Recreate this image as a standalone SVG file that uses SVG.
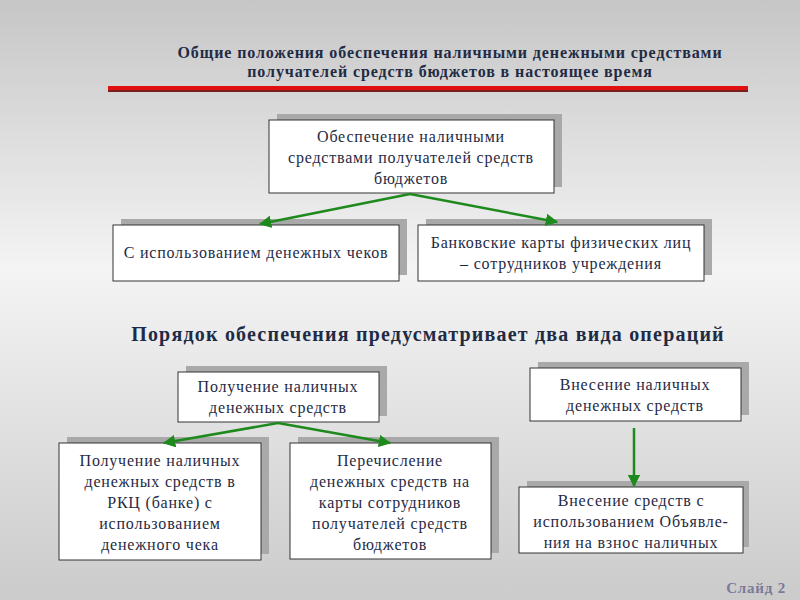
<svg xmlns="http://www.w3.org/2000/svg" width="800" height="600" viewBox="0 0 800 600">
<defs>
<linearGradient id="bg" x1="0" y1="0" x2="0" y2="1">
<stop offset="0" stop-color="#c6c6c6"/><stop offset="0.45" stop-color="#f4f4f4"/><stop offset="1" stop-color="#cbcbcb"/>
</linearGradient>
<marker id="ah" viewBox="0 0 10 10" refX="9" refY="5" markerWidth="5" markerHeight="5" orient="auto"><path d="M0,0 L10,5 L0,10 z" fill="#1e8a1e"/></marker>
<style>
.sh{fill:#a9a9a9}
.bx{fill:#fff;stroke:#333;stroke-width:1}
.t{font-family:"Liberation Serif",serif;font-size:16px;letter-spacing:0.8px;fill:#1f2b45;text-anchor:middle}
.c{stroke:#1e8a1e;stroke-width:2.5;fill:none;marker-end:url(#ah)}
.h{font-family:"Liberation Serif",serif;font-weight:bold;fill:#1f2b45;text-anchor:middle}
</style>
</defs>
<rect width="800" height="600" fill="url(#bg)"/>
<text class="h" font-size="16" letter-spacing="0.9" x="450" y="58">Общие положения обеспечения наличными денежными средствами</text>
<text class="h" font-size="16" letter-spacing="0.9" x="450" y="77">получателей средств бюджетов в настоящее время</text>
<rect x="108" y="86" width="640" height="4" fill="#e01010"/>
<rect x="108" y="90" width="640" height="2" fill="#7a2020"/>
<text class="h" font-size="20" letter-spacing="1.2" x="428" y="341">Порядок обеспечения предусматривает два вида операций</text>
<g id="n1"><rect class="sh" x="277" y="114" width="285" height="73"/><rect class="bx" x="269" y="120" width="285" height="73"/>
<text class="t" x="411" y="142">Обеспечение наличными</text><text class="t" x="411" y="163">средствами получателей средств</text><text class="t" x="411" y="184">бюджетов</text></g>
<g id="n2"><rect class="sh" x="121" y="219" width="286" height="56"/><rect class="bx" x="113" y="225" width="286" height="56"/>
<text class="t" x="256" y="258">С использованием денежных чеков</text></g>
<g id="n3"><rect class="sh" x="426" y="219" width="286" height="56"/><rect class="bx" x="418" y="225" width="286" height="56"/>
<text class="t" x="561" y="248">Банковские карты физических лиц</text><text class="t" x="561" y="269">– сотрудников учреждения</text></g>
<g id="n4"><rect class="sh" x="186" y="366" width="201" height="50"/><rect class="bx" x="178" y="372" width="201" height="50"/>
<text class="t" x="278" y="392">Получение наличных</text><text class="t" x="278" y="413">денежных средств</text></g>
<g id="n5"><rect class="sh" x="538" y="362" width="211" height="53"/><rect class="bx" x="530" y="368" width="211" height="53"/>
<text class="t" x="635" y="390">Внесение наличных</text><text class="t" x="635" y="411">денежных средств</text></g>
<g id="n6"><rect class="sh" x="67" y="437" width="202" height="117"/><rect class="bx" x="59" y="443" width="202" height="117"/>
<text class="t" x="160" y="466">Получение наличных</text><text class="t" x="160" y="487">денежных средств в</text><text class="t" x="160" y="508">РКЦ (банке) с</text><text class="t" x="160" y="529">использованием</text><text class="t" x="160" y="550">денежного чека</text></g>
<g id="n7"><rect class="sh" x="298" y="437" width="201" height="116"/><rect class="bx" x="290" y="443" width="201" height="116"/>
<text class="t" x="390" y="466">Перечисление</text><text class="t" x="390" y="487">денежных средств на</text><text class="t" x="390" y="508">карты сотрудников</text><text class="t" x="390" y="529">получателей средств</text><text class="t" x="390" y="550">бюджетов</text></g>
<g id="n8"><rect class="sh" x="527" y="481" width="222" height="66"/><rect class="bx" x="519" y="487" width="224" height="66"/>
<text class="t" x="631" y="506">Внесение  средств с</text><text class="t" x="631" y="527">использованием Объявле-</text><text class="t" x="631" y="548">ния на взнос наличных</text></g>
<g id="connectors">
<line class="c" x1="410" y1="194" x2="260" y2="224"/>
<line class="c" x1="410" y1="194" x2="557" y2="222"/>
<line class="c" x1="278" y1="423" x2="164" y2="443"/>
<line class="c" x1="278" y1="423" x2="390" y2="443"/>
<line class="c" x1="634" y1="428" x2="634" y2="486"/>
</g>
<text x="786" y="593" font-family="Liberation Serif,serif" font-weight="bold" font-size="15" letter-spacing="0.8" fill="#7a7a9a" text-anchor="end">Слайд  2</text>
</svg>
